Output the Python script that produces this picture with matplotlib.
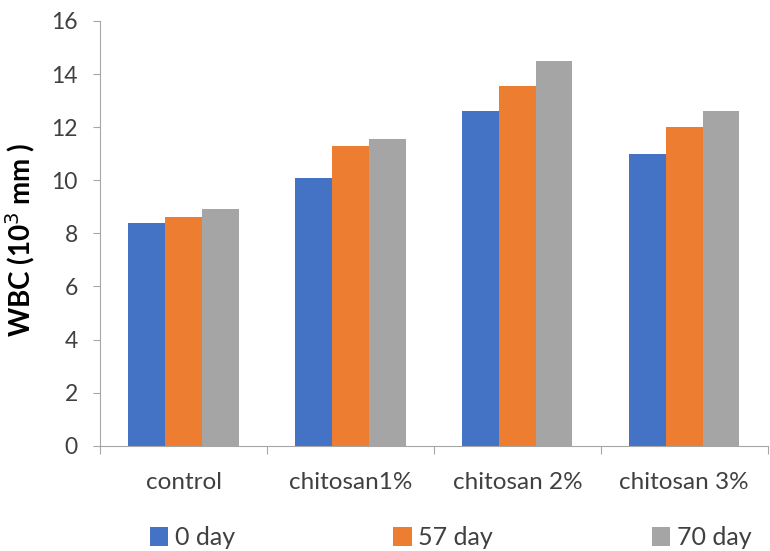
import numpy as np
import matplotlib
matplotlib.use("Agg")
import matplotlib.pyplot as plt

plt.rcParams['font.family'] = ['Lato', 'DejaVu Sans']

# WBC counts per treatment group at each sampling day
groups = ["control", "chitosan1%", "chitosan 2%", "chitosan 3%"]
day_labels = ["0 day", "57 day", "70 day"]
day0 = [8.4, 10.1, 12.6, 11.0]
day57 = [8.6, 11.3, 13.55, 12.0]
day70 = [8.9, 11.55, 14.5, 12.6]
colors = ["#4472C4", "#ED7D31", "#A5A5A5"]

fig = plt.figure(figsize=(7.7, 5.51), dpi=100)
ax = fig.add_axes([0.13, 0.191, 0.867, 0.771])

x = np.arange(len(groups))
w = 0.22
for i, (vals, lab, c) in enumerate(zip([day0, day57, day70], day_labels, colors)):
    ax.bar(x + (i - 1) * w, vals, width=w, color=c, label=lab)

ax.set_xlim(-0.5, len(groups) - 0.5)
ax.set_ylim(0, 16)
ax.set_yticks(range(0, 17, 2))
ax.tick_params(axis='y', labelsize=16.5, length=5, color="#A6A6A6", labelcolor="#404040", pad=11)

# category ticks sit on the group boundaries, labels centred under each group
ax.set_xticks(np.arange(-0.5, len(groups), 1.0))
ax.set_xticklabels([])
ax.set_xticks(x, minor=True)
ax.set_xticklabels(groups, minor=True)
ax.tick_params(axis='x', which='major', length=6, color="#A6A6A6")
ax.tick_params(axis='x', which='minor', length=0, labelsize=17.5, labelcolor="#404040", pad=19)

for s in ["top", "right"]:
    ax.spines[s].set_visible(False)
for s in ["left", "bottom"]:
    ax.spines[s].set_color("#A6A6A6")

ax.set_ylabel("WBC (10$^{3}$ mm )", fontsize=20, fontweight="bold")
ax.yaxis.set_label_coords(-0.095, 0.485)

fig.legend(loc="center left", bbox_to_anchor=(0.165, 0.024, 0.84, 0.0), mode="expand",
           ncol=3, frameon=False, fontsize=18, handlelength=0.75, handleheight=0.75,
           handletextpad=0.25, labelcolor="#404040")

fig.savefig("out.png", dpi=100)
